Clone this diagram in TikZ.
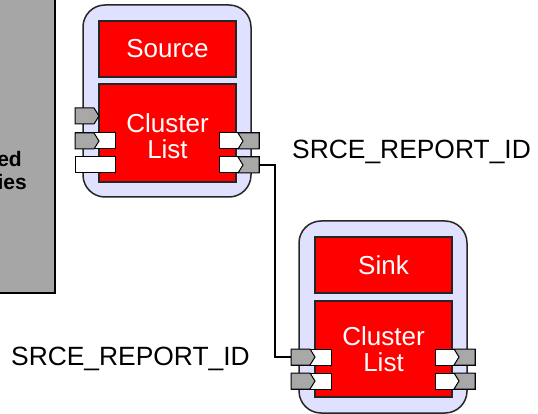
\documentclass[tikz,border=0pt]{standalone}
\usepackage{fontspec}
\setmainfont{Liberation Sans}
\usetikzlibrary{positioning}

\definecolor{boxred}{RGB}{255,0,0}
\definecolor{shelllav}{RGB}{224,224,255}
\definecolor{portgrey}{RGB}{168,168,168}
\definecolor{panelgrey}{RGB}{166,166,166}

\tikzset{
  shell/.style={draw=black!85, line width=1.5pt, fill=shelllav, rounded corners=22pt},
  redbox/.style={draw=black!85, line width=1.2pt, fill=boxred, text=white, inner sep=0pt,
    align=center, minimum width=137pt, font=\fontsize{26}{26}\selectfont},
  boxtext/.style={text=white, inner sep=0pt, align=center, font=\fontsize{26}{26}\selectfont},
  portline/.style={draw=black, line width=1pt},
  idlabel/.style={inner sep=0pt, font=\fontsize{26.4}{30}\selectfont},
  panellbl/.style={inner sep=0pt, font=\fontsize{21}{24}\selectfont\bfseries},
  wire/.style={draw=black, line width=1.8pt},
  pics/grayport/.style={code={
    \filldraw[portline, fill=portgrey] (0,0) -- (19,0) -- (24,8) -- (19,16) -- (0,16) -- cycle;
    \coordinate (-e) at (24,8);
  }},
  pics/mixport/.style={code={
    \filldraw[portline, fill=white] (0,0) rectangle (40,16);
    \filldraw[portline, fill=portgrey] (0,0) -- (19,0) -- (24,8) -- (19,16) -- (0,16) -- cycle;
    \coordinate (-w) at (0,8);
  }},
  pics/blankport/.style={code={
    \filldraw[portline, fill=white] (0,0) rectangle (40,16);
  }},
  pics/outport/.style={code={
    \filldraw[portline, fill=white] (0,0) rectangle (40,16);
    \filldraw[portline, fill=portgrey] (19,0) -- (40,0) -- (40,16) -- (19,16) -- (24,8) -- cycle;
    \coordinate (-e) at (40,8);
  }},
}

\begin{document}
\begin{tikzpicture}[x=1pt, y=-1pt]
  \useasboundingbox (0,0) rectangle (538,414);
  \clip (0,0) rectangle (538,414);

  % grey panel, cut off at the left
  \draw[line width=2.5pt, fill=panelgrey] (-20,-20) rectangle (55,293);
  \node[panellbl, anchor=base east] (pan1) at (22,167) {ed};
  \node[panellbl, anchor=base east] (pan2) at (27,190) {ies};

  % Source component
  \begin{scope}[shift={(83,5)}]
    \draw[shell] (0,0) rectangle (168,192);
    \node[redbox, minimum height=56pt] (srcname) at (84.5,44) {Source};
    \node[redbox, minimum height=98pt] (srclist) at (84.5,128) {};
    \node[boxtext] (srclisttxt) at (84.5,131) {Cluster\\List};
    \pic (srcin1) at (-8,103) {grayport};
    \pic (srcin2) at (-8,128) {mixport};
    \pic (srcin3) at (-8,152) {blankport};
    \pic (srcout1) at (136,128) {outport};
    \pic (srcout2) at (136,152) {outport};
  \end{scope}

  % Sink component
  \begin{scope}[shift={(299,221)}]
    \draw[shell] (0,0) rectangle (168,192);
    \node[redbox, minimum height=56pt] (snkname) at (84.5,44) {Sink};
    \node[redbox, minimum height=96pt] (snklist) at (84.5,128) {Cluster\\List};
    \pic (snkin1) at (-8,128) {mixport};
    \pic (snkin2) at (-8,152) {mixport};
    \pic (snkout1) at (136,128) {outport};
    \pic (snkout2) at (136,152) {outport};
  \end{scope}

  % link between the two
  \draw[wire] (srcout2-e) -- ++(16,0) |- (snkin1-w);
  \node[idlabel, anchor=base west] (idsrc) at (292,159) {SRCE\_REPORT\_ID};
  \node[idlabel, anchor=base east] (idsnk) at (250,365) {SRCE\_REPORT\_ID};
\end{tikzpicture}
\end{document}
